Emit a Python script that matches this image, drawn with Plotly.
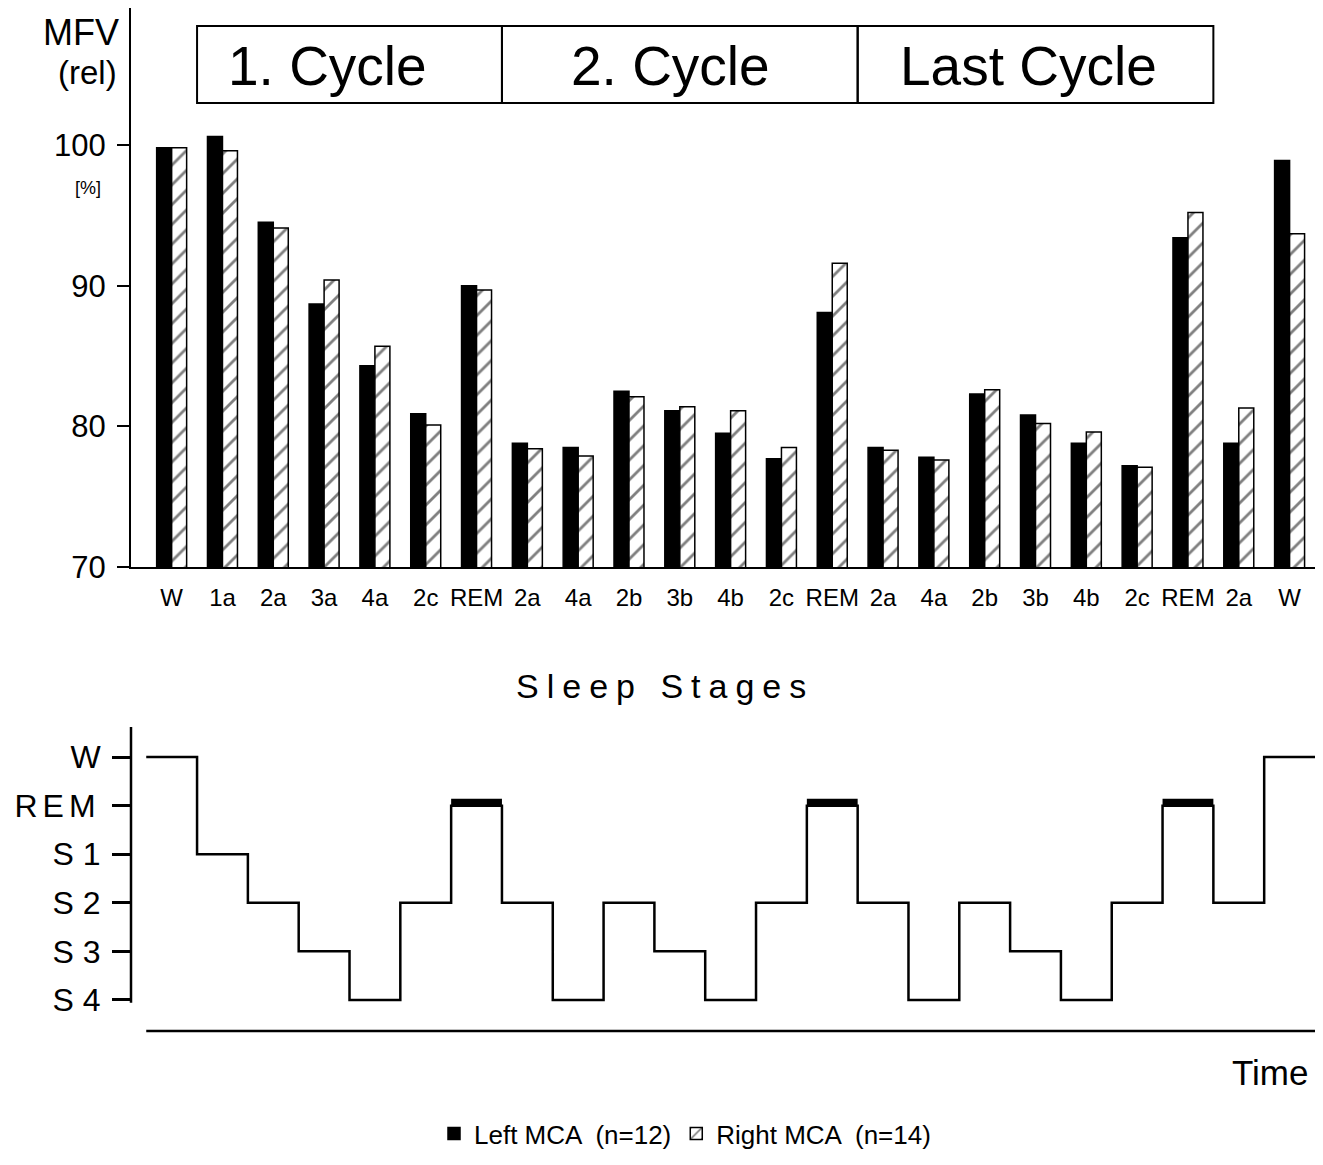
import plotly.graph_objects as go

# ---------------- data ----------------
categories = ["W", "1a", "2a", "3a", "4a", "2c", "REM", "2a", "4a", "2b", "3b", "4b",
              "2c", "REM", "2a", "4a", "2b", "3b", "4b", "2c", "REM", "2a", "W"]
left_mca = [99.8, 100.6, 94.5, 88.7, 84.3, 80.9, 90.0, 78.8, 78.5, 82.5, 81.1, 79.5,
            77.7, 88.1, 78.5, 77.8, 82.3, 80.8, 78.8, 77.2, 93.4, 78.8, 98.9]
right_mca = [99.8, 99.6, 94.1, 90.4, 85.7, 80.1, 89.7, 78.4, 77.9, 82.1, 81.4, 81.1,
             78.5, 91.6, 78.3, 77.6, 82.6, 80.2, 79.6, 77.1, 95.2, 81.3, 93.7]
stages = ["W", "S 1", "S 2", "S 3", "S 4", "S 2", "REM", "S 2", "S 4", "S 2", "S 3", "S 4",
          "S 2", "REM", "S 2", "S 4", "S 2", "S 3", "S 4", "S 2", "REM", "S 2", "W"]
stage_labels = ["S 4", "S 3", "S 2", "S 1", "REM", "W"]
y_ticks = [70, 80, 90, 100]
cycles = [("1. Cycle", 0.5, 6.5), ("2. Cycle", 6.5, 13.5), ("Last Cycle", 13.5, 20.5)]
legend_names = ["Left MCA  (n=12)", "Right MCA  (n=14)"]

FONT = "Liberation Sans, Arial, Helvetica, sans-serif"
OFF = 8                      # page body margin
W, H = 1323 - 2 * OFF, 1165 - 2 * OFF


def px_x(p):
    return min(1.0, max(0.0, (p - OFF) / W))


def px_y(p):
    return min(1.0, max(0.0, 1 - (p - OFF) / H))


n = len(categories)
xs = list(range(n))
level = {s: i for i, s in enumerate(stage_labels)}
stage_y = [level[s] for s in stages]

fig = go.Figure()

# ---------------- top bar chart ----------------
fig.add_trace(go.Bar(
    x=xs, y=left_mca, name=legend_names[0],
    marker=dict(color="black", line=dict(color="black", width=1.5)),
    xaxis="x", yaxis="y"))
fig.add_trace(go.Bar(
    x=xs, y=right_mca, name=legend_names[1],
    marker=dict(color="white", line=dict(color="black", width=1.5),
                pattern=dict(shape="/", size=14, solidity=0.2,
                             fgcolor="black", bgcolor="white")),
    xaxis="x", yaxis="y"))

# ---------------- bottom step chart ----------------
step_x = [i - 0.5 for i in xs] + [n - 0.5]
step_y = stage_y + [stage_y[-1]]
fig.add_trace(go.Scatter(
    x=step_x, y=step_y, mode="lines", line=dict(color="black", width=2.5, shape="hv"),
    showlegend=False, xaxis="x2", yaxis="y2", hoverinfo="skip"))
rem_x = [i for i, s in enumerate(stages) if s == "REM"]
fig.add_trace(go.Bar(
    x=rem_x, y=[0.14] * len(rem_x), base=[level["REM"]] * len(rem_x),
    width=1, offset=-0.5, marker=dict(color="black", line=dict(width=0)),
    showlegend=False, xaxis="x2", yaxis="y2", hoverinfo="skip"))

xdom = [px_x(131), px_x(1315)]
fig.update_layout(
    width=W, height=H,
    margin=dict(l=0, r=0, t=0, b=0, autoexpand=False),
    paper_bgcolor="white", plot_bgcolor="white",
    font=dict(family=FONT, color="black"),
    barmode="group", bargap=0.41, bargroupgap=0,
    xaxis=dict(domain=xdom, range=[-0.8, 22.5], tickmode="array", tickvals=xs,
               ticktext=categories, showline=True, linecolor="black", linewidth=2,
               ticks="", showgrid=False, zeroline=False,
               tickfont=dict(size=24, family=FONT), ticklabelstandoff=8),
    yaxis=dict(domain=[px_y(567), px_y(8)], range=[70, 109.74], tickvals=y_ticks,
               showline=True, linecolor="black", linewidth=2, ticks="outside",
               ticklen=12, tickwidth=2, tickcolor="black", showgrid=False,
               zeroline=False, tickfont=dict(size=31, family=FONT),
               ticklabelstandoff=5),
    xaxis2=dict(domain=xdom, range=[-0.8, 22.5], showticklabels=False, ticks="",
                showline=False, showgrid=False, zeroline=False, anchor="y2"),
    yaxis2=dict(domain=[px_y(1031), px_y(727)], range=[-0.64, 5.62],
                tickmode="array", tickvals=list(range(len(stage_labels))),
                ticktext=[('<span style="letter-spacing:5px">%s</span>' % s) if s == "REM" else s
                          for s in stage_labels],
                showline=False, ticks="outside", ticklen=18, tickwidth=2.5,
                tickcolor="black", showgrid=False, zeroline=False,
                tickfont=dict(size=32, family=FONT), ticklabelstandoff=5,
                anchor="x2"),
    legend=dict(orientation="h", x=px_x(685), xanchor="center", y=0,
                yanchor="bottom", font=dict(size=26, family=FONT),
                itemwidth=30, bgcolor="rgba(0,0,0,0)"),
)

shapes = []
# cycle boxes
for label, a, b in cycles:
    shapes.append(dict(type="rect", xref="x", yref="paper", x0=a, x1=b,
                       y0=px_y(103), y1=px_y(26), line=dict(color="black", width=2)))
# lower y axis line
shapes.append(dict(type="line", xref="x2 domain", yref="y2", x0=0, x1=0,
                   y0=-0.06, y1=5.62, line=dict(color="black", width=2.5)))
# time axis line
shapes.append(dict(type="line", xref="x2", yref="y2 domain", x0=-0.5, x1=22.5,
                   y0=0, y1=0, line=dict(color="black", width=2.5)))
fig.update_layout(shapes=shapes)

annotations = [
    dict(text="MFV", x=px_x(121), y=px_y(33), xanchor="right", yanchor="middle",
         font=dict(size=36)),
    dict(text="(rel)", x=px_x(119), y=px_y(72), xanchor="right", yanchor="middle",
         font=dict(size=33)),
    dict(text="[%]", x=px_x(88), y=px_y(188), xanchor="center", yanchor="middle",
         font=dict(size=18)),
    dict(text='<span style="letter-spacing:8px">Sleep Stages</span>', x=px_x(665),
         y=px_y(686), xanchor="center", yanchor="middle", font=dict(size=34)),
    dict(text="Time", x=px_x(1310), y=px_y(1072), xanchor="right", yanchor="middle",
         font=dict(size=35)),
]
box_text_x = [px_x(327), px_x(670), px_x(1028)]
for (label, a, b), tx in zip(cycles, box_text_x):
    annotations.append(dict(text=label, x=tx, y=px_y(66), xanchor="center",
                            yanchor="middle", font=dict(size=55)))
for a in annotations:
    a.update(xref="paper", yref="paper", showarrow=False)
    a["font"]["family"] = FONT
    a["font"]["color"] = "black"
fig.update_layout(annotations=annotations)

fig.write_html("out.html")
